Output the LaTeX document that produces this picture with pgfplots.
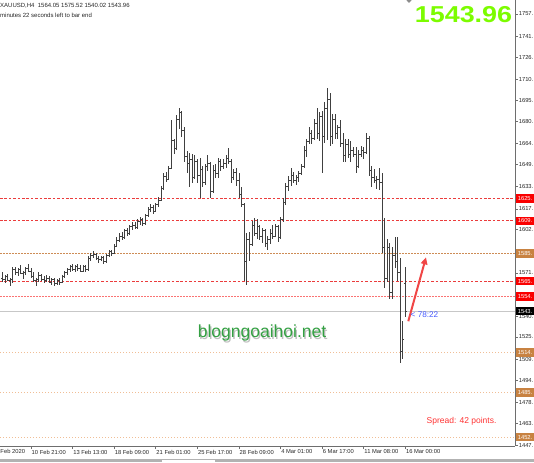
\documentclass[border=0pt]{standalone}
\usepackage{fontspec}
\setmainfont{Liberation Sans}
\usepackage{pgfplots}
\pgfplotsset{compat=1.18}
\usepackage{pgfplotstable}
\usetikzlibrary{arrows.meta}
\definecolor{redline}{RGB}{235,60,60}
\definecolor{pinkline}{RGB}{250,115,115}
\definecolor{tanline}{RGB}{205,140,85}
\definecolor{ltanline}{RGB}{240,190,150}
\definecolor{tanbox}{RGB}{200,130,65}
\definecolor{redbox}{RGB}{250,0,0}
\definecolor{lgreen}{RGB}{124,252,0}
\definecolor{wgreen}{RGB}{52,160,67}
\definecolor{tblue}{RGB}{70,90,255}
\definecolor{axgray}{RGB}{110,110,110}
\definecolor{arrowred}{RGB}{240,70,70}
\definecolor{sprred}{RGB}{255,50,50}
\newcommand\tl{\fontsize{5.8}{6.5}\selectfont}
\pgfplotstableread{
i o h l c
0 1568 1572 1565 1567
1 1567 1570 1564 1569
2 1569 1571 1566 1566
3 1566 1568 1562 1567
4 1567 1576 1564 1574
5 1574 1576 1570 1572
6 1572 1575 1569 1574
7 1574 1577 1571 1571
8 1571 1573 1567 1572
9 1572 1576 1570 1575
10 1575 1578 1572 1573
11 1573 1575 1568 1569
12 1569 1572 1565 1566
13 1566 1568 1562 1567
14 1567 1572 1565 1570
15 1570 1571 1566 1567
16 1567 1569 1564 1566
17 1566 1570 1565 1568
18 1568 1569 1564 1565
19 1565 1568 1563 1567
20 1567 1568 1562 1564
21 1564 1567 1563 1566
22 1566 1568 1563 1565
23 1565 1570 1564 1569
24 1569 1573 1568 1572
25 1572 1575 1570 1574
26 1574 1577 1572 1576
27 1576 1578 1573 1574
28 1574 1577 1572 1576
29 1576 1578 1573 1575
30 1575 1577 1572 1573
31 1573 1577 1572 1576
32 1576 1577 1572 1574
33 1574 1584 1573 1582
34 1582 1586 1580 1584
35 1584 1587 1582 1585
36 1585 1586 1581 1582
37 1582 1584 1579 1581
38 1581 1584 1580 1583
39 1583 1584 1578 1580
40 1580 1585 1579 1584
41 1584 1588 1583 1587
42 1587 1588 1584 1586
43 1586 1592 1585 1591
44 1591 1597 1590 1595
45 1595 1600 1594 1598
46 1598 1601 1595 1597
47 1597 1603 1596 1602
48 1602 1604 1598 1600
49 1600 1606 1599 1605
50 1605 1608 1602 1606
51 1606 1608 1603 1604
52 1604 1610 1603 1609
53 1609 1612 1606 1610
54 1610 1611 1605 1607
55 1607 1614 1606 1613
56 1613 1619 1612 1617
57 1617 1621 1615 1619
58 1619 1620 1614 1616
59 1616 1622 1615 1621
60 1621 1626 1619 1624
61 1624 1634 1623 1632
62 1632 1643 1631 1641
63 1641 1644 1637 1639
64 1639 1648 1638 1647
65 1647 1681 1646 1667
66 1667 1668 1657 1661
67 1661 1685 1660 1682
68 1682 1690 1675 1687
69 1687 1688 1669 1674
70 1674 1676 1651 1655
71 1655 1659 1643 1650
72 1650 1658 1633 1653
73 1653 1657 1636 1640
74 1640 1656 1639 1652
75 1652 1653 1636 1642
76 1642 1654 1625 1646
77 1646 1648 1633 1637
78 1637 1650 1635 1648
79 1648 1656 1645 1650
80 1650 1651 1625 1630
81 1630 1649 1629 1645
82 1645 1650 1640 1643
83 1643 1654 1640 1652
84 1652 1653 1645 1648
85 1648 1653 1646 1650
86 1650 1656 1647 1654
87 1654 1661 1650 1652
88 1652 1653 1636 1640
89 1640 1646 1638 1644
90 1644 1647 1634 1638
91 1638 1643 1625 1628
92 1628 1633 1619 1621
93 1621 1622 1566 1580
94 1580 1600 1563 1596
95 1596 1601 1580 1592
96 1592 1609 1591 1606
97 1606 1611 1598 1600
98 1600 1610 1596 1605
99 1605 1606 1595 1598
100 1598 1604 1593 1602
101 1602 1603 1590 1593
102 1593 1598 1588 1596
103 1596 1603 1592 1600
104 1600 1606 1596 1598
105 1598 1607 1597 1605
106 1605 1606 1594 1597
107 1597 1612 1596 1610
108 1610 1625 1608 1622
109 1622 1636 1620 1634
110 1634 1641 1630 1638
111 1638 1647 1634 1642
112 1642 1644 1636 1638
113 1638 1642 1635 1640
114 1640 1645 1637 1643
115 1643 1650 1642 1648
116 1648 1663 1647 1660
117 1660 1668 1655 1666
118 1666 1676 1664 1672
119 1672 1674 1664 1668
120 1668 1682 1667 1679
121 1679 1690 1668 1672
122 1672 1687 1666 1684
123 1684 1688 1643 1670
124 1670 1694 1665 1690
125 1690 1704 1667 1696
126 1696 1701 1663 1670
127 1670 1686 1664 1682
128 1682 1686 1668 1672
129 1672 1678 1668 1676
130 1676 1681 1662 1665
131 1665 1672 1651 1656
132 1656 1668 1651 1664
133 1664 1668 1654 1657
134 1657 1666 1651 1660
135 1660 1662 1655 1657
136 1657 1662 1643 1648
137 1648 1660 1647 1657
138 1657 1663 1655 1660
139 1660 1662 1653 1658
140 1658 1672 1657 1668
141 1668 1670 1641 1645
142 1645 1648 1633 1640
143 1640 1646 1636 1638
144 1638 1641 1632 1639
145 1639 1647 1631 1637
146 1637 1643 1586 1590
147 1590 1611 1561 1568
148 1568 1596 1565 1590
149 1590 1593 1553 1558
150 1558 1590 1553 1584
151 1584 1597 1575 1580
152 1580 1597 1566 1572
153 1572 1582 1507 1515
154 1515 1537 1510 1524
155 1564.05 1575.52 1540.02 1543.96
}\bars
\begin{document}
\begin{tikzpicture}[x=1pt,y=1pt]
\begin{axis}[
  at={(0pt,16pt)}, anchor=south west,
  scale only axis, width=515pt, height=446pt,
  xmin=-0.885, xmax=197.2, ymin=1447.2, ymax=1767.55,
  axis x line*=bottom, axis y line*=right,
  axis line style={axgray, line width=0.8pt},
  tick align=outside, major tick length=3pt,
  tick style={axgray, line width=0.6pt},
  xtick={11,27,43,59,75,91,107,123,139,155},
  xticklabels={10 Feb 21:00,13 Feb 13:00,18 Feb 09:00,21 Feb 01:00,25 Feb 17:00,28 Feb 09:00,4 Mar 01:00,6 Mar 17:00,11 Mar 08:00,16 Mar 00:00},
  xticklabel style={font=\tl, anchor=north west, inner xsep=0.6pt, inner ysep=0.6pt, text=black!85},
  ytick={1447.5,1463.5,1478.5,1494.5,1509.5,1525.5,1540.5,1571.5,1602.5,1617.5,1633.5,1649.5,1664.5,1680.5,1695.5,1710.5,1726.5,1741.5,1757.5},
  yticklabels={1447.,1463.,1478.,1494.,1509.,1525.,1540.,1571.,1602.,1617.,1633.,1649.,1664.,1680.,1695.,1710.,1726.,1741.,1757.},
  yticklabel style={font=\tl, anchor=west, inner xsep=0.6pt, text=black!85},
  yticklabel pos=right,
  /pgf/number format/assume math mode=true,
]
% level lines
\addplot[redline, line width=0.7pt, dash pattern=on 2.6pt off 1.8pt] coordinates {(-0.885,1625) (197.2,1625)};
\addplot[redline, line width=0.7pt, dash pattern=on 2.6pt off 1.8pt] coordinates {(-0.885,1609) (197.2,1609)};
\addplot[tanline, line width=0.8pt, dash pattern=on 1.6pt off 1.4pt] coordinates {(-0.885,1585.5) (197.2,1585.5)};
\addplot[redline, line width=0.7pt, dash pattern=on 2.6pt off 1.8pt] coordinates {(-0.885,1565.5) (197.2,1565.5)};
\addplot[pinkline, line width=1.1pt, dash pattern=on 1.6pt off 1.4pt] coordinates {(-0.885,1554.5) (197.2,1554.5)};
\addplot[black!22, line width=0.7pt] coordinates {(-0.885,1543.96) (197.2,1543.96)};
\addplot[ltanline, line width=1.1pt, dash pattern=on 1.4pt off 1.6pt] coordinates {(-0.885,1514.5) (197.2,1514.5)};
\addplot[ltanline, line width=1.1pt, dash pattern=on 1.4pt off 1.6pt] coordinates {(-0.885,1485.5) (197.2,1485.5)};
\addplot[ltanline, line width=1.1pt, dash pattern=on 1.4pt off 1.6pt] coordinates {(-0.885,1453.5) (197.2,1453.5)};
% OHLC bars: high-low range (no marks, error bars only)
\addplot[only marks, mark=*, mark size=0pt, mark options={draw=none, fill=none}, black!75,
  error bars/.cd, y dir=both, y explicit, error mark=none,
  error bar style={draw=black!75, line width=0.75pt}]
  table[x=i, y expr=(\thisrow{h}+\thisrow{l})/2, y error expr=(\thisrow{h}-\thisrow{l})/2] {\bars};
\addplot[only marks, mark=-, mark size=0.6pt, mark options={line width=0.45pt, draw=black!75, line cap=butt}]
  table[x expr=\thisrow{i}-0.25, y=o] {\bars};
\addplot[only marks, mark=-, mark size=0.6pt, mark options={line width=0.45pt, draw=black!75, line cap=butt}]
  table[x expr=\thisrow{i}+0.25, y=c] {\bars};
% arrow
\draw[arrowred, line width=2pt, -{Triangle[length=7pt,width=6.5pt]}] (axis cs:156.15,1536.8) -- (axis cs:162.96,1582.7);
\coordinate (r1625) at (axis cs:197.2,1625);
\coordinate (r1609) at (axis cs:197.2,1609);
\coordinate (r1585) at (axis cs:197.2,1585.5);
\coordinate (r1565) at (axis cs:197.2,1565.5);
\coordinate (r1554) at (axis cs:197.2,1554.5);
\coordinate (r1543) at (axis cs:197.2,1543.96);
\coordinate (r1514) at (axis cs:197.2,1514.5);
\coordinate (r1485) at (axis cs:197.2,1485.5);
\coordinate (r1452) at (axis cs:197.2,1453.5);
\end{axis}
% price boxes
\tikzset{pbox/.style={anchor=west, font=\tl, text=white, inner xsep=1.2pt, inner ysep=0pt, minimum height=8.4pt, text depth=0pt, minimum width=22pt, align=left, text width=18pt}}
\node[pbox, fill=redbox] at ([xshift=0.6pt]r1625) {1625.};
\node[pbox, fill=redbox] at ([xshift=0.6pt]r1609) {1609.};
\node[pbox, fill=tanbox] at ([xshift=0.6pt]r1585) {1585.};
\node[pbox, fill=redbox] at ([xshift=0.6pt]r1565) {1565.};
\node[pbox, fill=redbox] at ([xshift=0.6pt]r1554) {1554.};
\node[pbox, fill=black] at ([xshift=0.6pt]r1543) {1543.};
\node[pbox, fill=tanbox] at ([xshift=0.6pt]r1514) {1514.};
\node[pbox, fill=tanbox] at ([xshift=0.6pt]r1485) {1485.};
\node[pbox, fill=tanbox] at ([xshift=0.6pt]r1452) {1452.};
% texts
\node[anchor=west, font=\fontsize{6}{7}\selectfont, inner sep=0pt, text=black!85] at (0,456.3) {XAUUSD,H4\ \ 1564.05 1575.52 1540.02 1543.96};
\node[anchor=west, font=\fontsize{6}{7}\selectfont, inner sep=0pt, text=black!85] at (0,447) {minutes 22 seconds left to bar end};
\node[anchor=center, font=\fontsize{23}{23}\selectfont\bfseries, text=lgreen, inner sep=0pt] at (463.5,447) {\scalebox{1.17}[1]{1543.96}};
\node[anchor=base, font=\fontsize{17.5}{18}\selectfont, text=black, opacity=0.25, inner sep=0pt] at (263.3,122.7) {blogngoaihoi.net};
\node[anchor=base, font=\fontsize{17.5}{18}\selectfont, text=wgreen, inner sep=0pt] at (262,124) {blogngoaihoi.net};
\node[anchor=west, font=\fontsize{8.2}{9}\selectfont, text=tblue, inner sep=0pt] at (410.5,147) {< 78:22};
\node[anchor=center, font=\fontsize{8.5}{9}\selectfont, text=sprred, inner sep=0pt] at (461.5,40.3) {Spread: 42 points.};
\node[anchor=west, font=\tl, text=black!85, inner sep=0pt] at (0.3,10.3) {Feb 2020};
\fill[black!45] (406.3,462) -- (411.7,462) -- (409,459) -- cycle;
\fill[black!30] (0,0) rectangle (534,2.6);
\fill[white] (162,0) rectangle (215,2.2);
\pgfresetboundingbox
\useasboundingbox (0,0) rectangle (534,462);
\end{tikzpicture}
\end{document}
